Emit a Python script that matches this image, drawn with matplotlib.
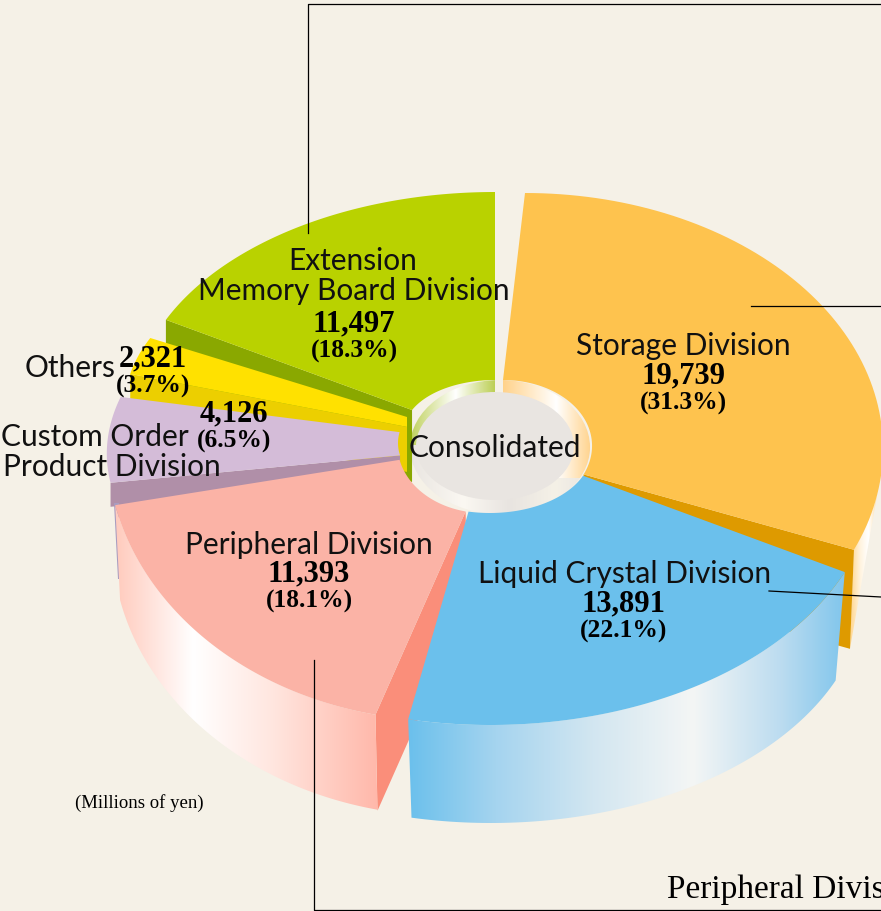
import matplotlib
matplotlib.use('Agg')
import matplotlib.pyplot as plt
import matplotlib.colors as mcolors
from matplotlib.patches import Polygon, Ellipse
import numpy as np

#chart data, clockwise from 12 o'clock
divisions = ['Storage', 'Liquid Crystal', 'Peripheral', 'Custom Order', 'Others', 'Extension']
sales = [19739, 13891, 11393, 4126, 2321, 11497]
percents = [31.3, 22.1, 18.1, 6.5, 3.7, 18.3]

#colors: top face, cut face
top_cols = ['#fec34e', '#6bc0ec', '#fbb3a6', '#d4bcd8', '#ffe100', '#b9d200']
cut_cols = ['#de9a00', '#6bc0ec', '#fa8e7a', '#b08fa8', '#eccf00', '#8aa800']

#ellipses per wedge (cx, cy, rx, ry, shear) in pixels, picture is drawn in a pixel axes
outer = [(523, 450, 360, 257, 2), (490, 475, 385, 250, 0), (448, 445, 341, 276, 0),
         (486, 437, 378, 210, 30), (411, 405, 286, 163, 0), (495, 409, 361, 217, 0)]
hub = [(500, 448, 92, 68, 3), (490, 452, 101, 61, 0), (484, 445, 86.5, 68, 0),
       (484, 443, 86, 57, 0), (407, 435.5, 0, 45, 0), (495, 431, 91, 51, 0)]

#angles come from the shares
shares = np.array(sales) / sum(sales) * 360
ends = np.cumsum(shares)
starts = ends - shares

#draw order counter, images would otherwise sit under all patches
z = [1]


def nextz():
    z[0] += 1
    return z[0]


def pts(ell, a, b, n=80):
    t = np.radians(np.linspace(a, b, n))
    cx, cy, rx, ry, sh = ell
    return np.column_stack([cx + rx * np.sin(t) + sh * np.cos(t), cy - ry * np.cos(t)])


def grad(ax, clip, x0, x1, y0, y1, cols, stops):
    #horizontal gradient clipped to a patch
    cm = mcolors.LinearSegmentedColormap.from_list('g', list(zip(stops, cols)))
    im = ax.imshow(np.linspace(0, 1, 256).reshape(1, -1), cmap=cm, extent=[x0, x1, y1, y0],
                   aspect='auto', interpolation='bilinear', zorder=nextz())
    ax.add_patch(clip)
    im.set_clip_path(clip)


def top_face(ax, i):
    xy = np.vstack([pts(outer[i], starts[i], ends[i]), pts(hub[i], ends[i], starts[i])])
    ax.add_patch(Polygon(xy, closed=True, fc=top_cols[i], ec='none', zorder=nextz()))


def cut_face(ax, i, ang, dx, depth):
    o = pts(outer[i], ang, ang, 1)[0]
    h = pts(hub[i], ang, ang, 1)[0]
    xy = [h, o, o + [dx, depth], h + [dx, depth]]
    ax.add_patch(Polygon(xy, closed=True, fc=cut_cols[i], ec='none', zorder=nextz()))


fig = plt.figure(figsize=(8.81, 9.11), dpi=100, facecolor='#f5f1e7')
ax = fig.add_axes([0, 0, 1, 1])

#hub ring
ring = (500, 447, 90, 67)
for ext, cols, stops in [
        ((408, 592, 445, 516), ['#e8e4e0', '#fbf8f2', '#e8e4e0', '#f5f1e7', '#e8e4e0'], [0, 0.3, 0.55, 0.8, 1]),
        ((503, 592, 375, 478), ['#ffd28a', '#ffffff', '#ffd28a'], [0, 0.6, 1]),
        ((408, 495, 375, 445), ['#bccf55', '#ffffff', '#bccf55'], [0, 0.55, 1])]:
    ell = Ellipse((ring[0], ring[1]), ring[2] * 2, ring[3] * 2, fc='none', ec='none')
    grad(ax, ell, ext[0], ext[1], ext[2], ext[3], cols, stops)
ax.add_patch(Ellipse((495, 446), 158, 108, fc='#e9e5e1', ec='none', zorder=nextz()))

#storage side and cut
arc = pts(outer[0], 100, ends[0], 20)
corner = arc[-1] + [-4, 99]
grad(ax, Polygon(np.vstack([arc, corner]), closed=True, fc='none', ec='none'), 850, 880, 480, 650,
     ['#ffd58c', '#fff4e0', '#ffffff', '#ffd58c'], [0, 0.35, 0.62, 1])
cut_face(ax, 0, ends[0], -4, 99)
top_face(ax, 0)

#liquid crystal
low = pts((491, 590, 374, 233, 0), starts[1], ends[1])
up = pts(outer[1], starts[1], ends[1])
cut_face(ax, 2, starts[2], 2, 96)
grad(ax, Polygon(np.vstack([up, low[::-1]]), closed=True, fc='none', ec='none'), 408, 847, 560, 830,
     ['#6bc0ec', '#a5d4ef', '#d2e6f1', '#f4f6f5', '#bcdcf0', '#7fc5ec'],
     [0, 0.2, 0.42, 0.65, 0.85, 1])
top_face(ax, 1)

#extension, others, custom stacked back to front
cut_face(ax, 5, starts[5], 0, 72)
top_face(ax, 5)
cut_face(ax, 4, starts[4], 0, 45)
top_face(ax, 4)
cut_face(ax, 3, starts[3], 0, 24)
top_face(ax, 3)

#custom outer side, only a sliver shows
sl = pts(outer[3], starts[3], starts[3], 1)[0]
ax.add_patch(Polygon([sl + [3, 20], sl + [8, 20], sl + [8, 96], sl + [7, 96]], closed=True,
                     fc='#a89cc0', ec='none', zorder=nextz()))

#peripheral
low = pts((449, 540, 337, 276, 0), starts[2], ends[2])
up = pts(outer[2], starts[2], ends[2])
grad(ax, Polygon(np.vstack([up, low[::-1]]), closed=True, fc='none', ec='none'), 113, 380, 500, 815,
     ['#ffc9bb', '#ffffff', '#ffe6df', '#ffb7a9'], [0, 0.3, 0.6, 1])
top_face(ax, 2)

ax.set_xlim(0, 881)
ax.set_ylim(911, 0)
ax.axis('off')

#leader lines
lz = nextz()
ax.plot([308, 308, 881], [233, 4, 4], color='k', lw=0.9, zorder=lz)
ax.plot([751, 881], [306, 306], color='k', lw=0.9, zorder=lz)
ax.plot([769, 881], [591, 597], color='k', lw=0.9, zorder=lz)
ax.plot([314, 314, 881], [660, 910, 910], color='k', lw=0.9, zorder=lz)

#labels
tz = nextz()
lab = dict(family='Lato', fontsize=21.5, ha='center', va='center', color='#111111', zorder=tz)
num = dict(family='Liberation Serif', fontweight='bold', fontsize=22, ha='center', va='center', color='k', zorder=tz)
pct = dict(family='Liberation Serif', fontweight='bold', fontsize=18.4, ha='center', va='center', color='k', zorder=tz)


def block(x, y, i):
    ax.text(x, y, f'{sales[i]:,}', **num)
    ax.text(x, y + 27, f'({percents[i]}%)', **pct)


ax.text(683, 346, divisions[0] + ' Division', **lab)
block(683, 376, 0)
ax.text(624.5, 574, divisions[1] + ' Division', **lab)
block(624, 604, 1)
ax.text(309, 545, divisions[2] + ' Division', **lab)
block(309, 574, 2)
ax.text(353, 261, divisions[5], **lab)
ax.text(354, 291, 'Memory Board Division', **lab)
block(354, 324, 5)
ax.text(70.5, 368, divisions[4], **lab)
block(153, 359, 4)
ax.text(95, 437, divisions[3], **lab)
ax.text(111.5, 467, 'Product Division', **lab)
block(234, 414, 3)
ax.text(494.5, 448, 'Consolidated', **lab)
ax.text(139.5, 803, '(Millions of yen)', family='Liberation Serif', fontsize=13.5, ha='center', va='center', zorder=tz)
ax.text(667, 890, 'Peripheral Division', family='Liberation Serif', fontsize=24, ha='left', va='center',
        clip_on=True, zorder=tz)

plt.savefig('out.png', dpi=100, facecolor=fig.get_facecolor())
